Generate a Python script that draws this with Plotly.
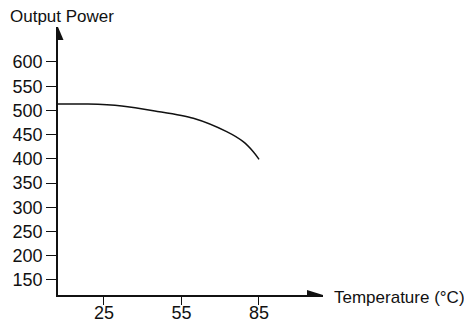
import plotly.graph_objects as go

# Data
temperature = [7.2, 18.8, 31.9, 44.7, 59.6, 72.5, 78.9, 82.8, 84.7, 85.0]
output_power = [513.2, 513.0, 509.0, 498.8, 483.7, 456.0, 435.3, 414.7, 401.5, 399.0]

x_ticks = [25, 55, 85]
y_ticks = [150, 200, 250, 300, 350, 400, 450, 500, 550, 600]

x_range = [7.2, 109.8]
y_range = [118.6, 672.3]

FONT = "Liberation Sans, Arial, sans-serif"
INK = "#111111"

fig = go.Figure()
fig.add_trace(go.Scatter(
    x=temperature, y=output_power, mode="lines",
    line=dict(color=INK, width=1.5, shape="spline", smoothing=0.8),
    showlegend=False, hoverinfo="skip",
))

fig.update_layout(
    template="none",
    width=464, height=324,
    margin=dict(l=58, r=141, t=27, b=29, pad=0),
    paper_bgcolor="white", plot_bgcolor="white",
    font=dict(family=FONT, color=INK, size=18),
    xaxis=dict(range=x_range, tickvals=x_ticks, ticks="outside", ticklen=8,
               tickwidth=1.3, tickcolor=INK, showline=True, linecolor=INK,
               linewidth=1.5, showgrid=False, zeroline=False, automargin=False,
               ticklabelstandoff=-7,
               tickfont=dict(size=18, family=FONT, color=INK)),
    yaxis=dict(range=y_range, tickvals=y_ticks, ticks="outside", ticklen=10,
               tickwidth=1.3, tickcolor=INK, showline=True, linecolor=INK,
               linewidth=1.5, showgrid=False, zeroline=False, automargin=False,
               tickfont=dict(size=18, family=FONT, color=INK)),
    shapes=[
        dict(type="path", xref="x", yref="y", xsizemode="pixel", ysizemode="pixel",
             xanchor=x_range[0], yanchor=y_range[1],
             path="M 0,0 L -5.5,-13 L 5.5,-13 Z", fillcolor=INK, line=dict(width=0)),
        dict(type="path", xref="x", yref="y", xsizemode="pixel", ysizemode="pixel",
             xanchor=x_range[1], yanchor=y_range[0],
             path="M 0,0 L -16,5 L -16,-5 Z", fillcolor=INK, line=dict(width=0)),
    ],
    annotations=[
        dict(text="Output Power", xref="paper", yref="paper", x=-0.1887, y=1.041,
             xanchor="left", yanchor="middle", showarrow=False,
             font=dict(size=17, family=FONT, color=INK)),
        dict(text="Temperature (°C)", xref="paper", yref="paper", x=1.033, y=-0.0075,
             xanchor="left", yanchor="middle", showarrow=False,
             font=dict(size=17, family=FONT, color=INK)),
    ],
)

fig.write_html(
    "out.html",
    config={"displayModeBar": False},
    post_script="document.body.style.margin='0';document.body.style.overflow='hidden';",
)
